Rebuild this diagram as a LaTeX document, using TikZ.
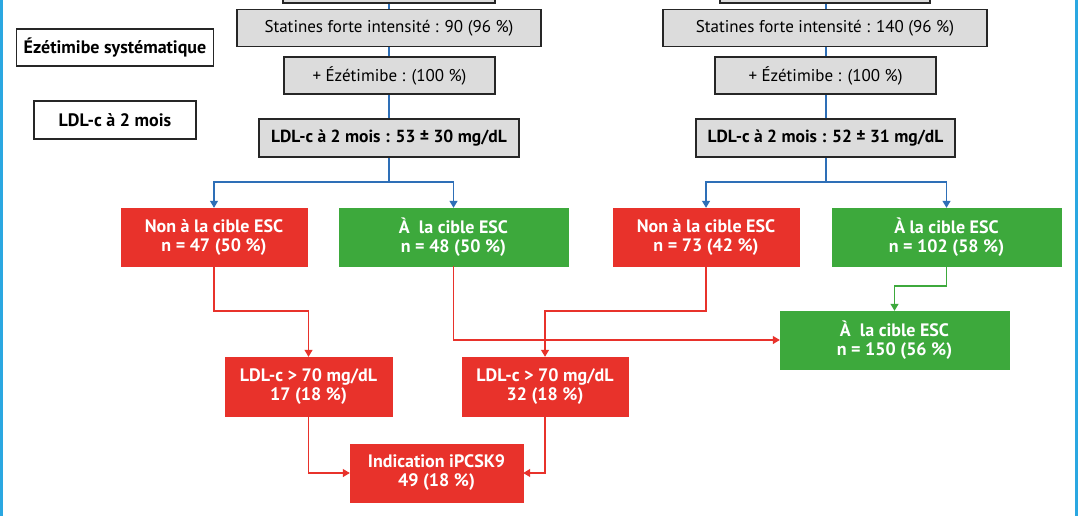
\documentclass[tikz,border=0pt]{standalone}
\usepackage{fontspec}
\setmainfont{PT Sans}
\usetikzlibrary{arrows.meta}
\definecolor{cred}{HTML}{E8322B}
\definecolor{cgreen}{HTML}{3DA93C}
\definecolor{cgray}{HTML}{DCDCDC}
\definecolor{cblue}{HTML}{2E6FB7}
\definecolor{cframe}{HTML}{2AA7E1}
\tikzset{
  base/.style={draw, inner sep=0pt, align=center, font=\fontsize{17}{19}\selectfont},
  graybox/.style={base, fill=cgray, draw=black!85, line width=1.3pt},
  graybold/.style={graybox, font=\fontsize{17.5}{19}\selectfont\bfseries},
  labelbox/.style={base, fill=white, draw=black!85, line width=1.3pt, font=\fontsize{18}{19}\selectfont\bfseries},
  redbox/.style={base, fill=cred, draw=cred, text=white, font=\fontsize{18}{19}\selectfont\bfseries},
  greenbox/.style={base, fill=cgreen, draw=cgreen, text=white, font=\fontsize{18}{19}\selectfont\bfseries},
  tip/.style={-{Triangle[width=8pt,length=7pt]}},
  bline/.style={draw=cblue, line width=1.2pt},
  rline/.style={draw=cred, line width=1.2pt},
  gline/.style={draw=cgreen, line width=1.2pt},
}
\begin{document}
\begin{tikzpicture}[x=1pt,y=-1pt]
\clip (0,0) rectangle (1078,516);
\fill[white] (0,0) rectangle (1078,516);
% frame
\draw[cframe, line width=3pt] (1.5,-10) -- (1.5,530);
\draw[cframe, line width=3pt] (1076.5,-10) -- (1076.5,530);
% left labels
\node[labelbox, minimum width=197pt, minimum height=37pt] (labEze) at (115,47.5) {Ézétimibe systématique};
\node[labelbox, minimum width=162pt, minimum height=38pt] (labLdl) at (115,120) {LDL-c à 2 mois};
% columns
\coordinate (topLc) at (389,-12);
\coordinate (topRc) at (825,-12);
\draw[bline] (389,-10) -- (389,182);
\draw[bline] (826,-10) -- (826,182);
\node[graybox, minimum width=212pt, minimum height=30pt] (topL) at (topLc) {};
\node[graybox, minimum width=304pt, minimum height=37pt] (statL) at (389,28) {Statines forte intensité : 90 (96 \%)};
\node[graybox, minimum width=211pt, minimum height=37pt] (ezeL) at (389.5,75.5) {+ Ézétimibe : (100 \%)};
\node[graybold, minimum width=260pt, minimum height=38pt] (ldlL) at (389,138) {LDL-c à 2 mois : 53 ± 30 mg/dL};
\node[graybox, minimum width=210pt, minimum height=30pt] (topR) at (topRc) {};
\node[graybox, minimum width=324pt, minimum height=37pt] (statR) at (825,28) {Statines forte intensité : 140 (96 \%)};
\node[graybox, minimum width=221pt, minimum height=37pt] (ezeR) at (825.5,75.5) {+ Ézétimibe : (100 \%)};
\node[graybold, minimum width=259pt, minimum height=38pt] (ldlR) at (825.5,138) {LDL-c à 2 mois : 52 ± 31 mg/dL};
% second row
\node[redbox, minimum width=186pt, minimum height=58pt] (nonL) at (214,237) {Non à la cible ESC\\n = 47 (50 \%)};
\node[greenbox, minimum width=229pt, minimum height=58pt] (okL) at (453.5,237) {À~ la cible ESC\\n = 48 (50 \%)};
\node[redbox, minimum width=186pt, minimum height=58pt] (nonR) at (706,237) {Non à la cible ESC\\n = 73 (42 \%)};
\node[greenbox, minimum width=229pt, minimum height=58pt] (okR) at (946.5,237) {À la cible ESC\\n = 102 (58 \%)};
\node[greenbox, minimum width=229pt, minimum height=58pt] (okAll) at (894.5,340) {À~ la cible ESC\\n = 150 (56 \%)};
\node[redbox, minimum width=167pt, minimum height=59pt] (ldl17) at (308.5,386.5) {LDL-c > 70 mg/dL\\17 (18 \%)};
\node[redbox, minimum width=166pt, minimum height=59pt] (ldl32) at (545,386.5) {LDL-c > 70 mg/dL\\32 (18 \%)};
\node[redbox, minimum width=173pt, minimum height=58pt] (ind) at (436.5,473) {Indication iPCSK9\\49 (18 \%)};
% blue branches
\coordinate (bL) at (389,182);
\coordinate (bR) at (826,182);
\draw[bline, tip] (bL) -| (nonL.north);
\draw[bline, tip] (bL) -| (okL.north);
\draw[bline, tip] (bR) -| (nonR.north);
\draw[bline, tip] (bR) -| (okR.north);
% red / green connectors
\coordinate (kL) at (214,311);
\coordinate (kR) at (706,311);
\coordinate (kG) at (946.5,286);
\draw[rline, tip] (nonL.south) -- (kL) -| (ldl17.north);
\draw[rline, tip] (nonR.south) -- (kR) -| (ldl32.north);
\draw[rline, tip] (okL.south) |- (okAll.west);
\draw[gline, tip] (okR.south) -- (kG) -| (okAll.north);
\draw[rline, tip] (ldl17.south) |- (ind.west);
\draw[rline, tip] (ldl32.south) |- (ind.east);
\end{tikzpicture}
\end{document}
